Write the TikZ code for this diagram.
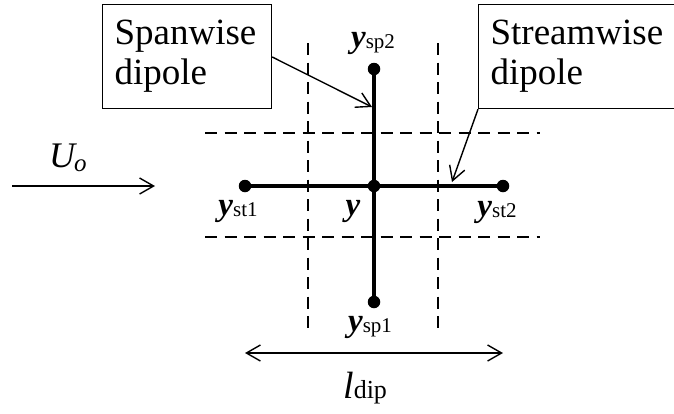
\documentclass[tikz,border=0pt]{standalone}
\usepackage{fontspec}
\setmainfont{Liberation Serif}
\usetikzlibrary{arrows.meta}
\begin{document}
\begin{tikzpicture}[x=1pt,y=-1pt,
  lbl/.style={font=\fontsize{33}{36}\selectfont, inner sep=0pt},
  boxlbl/.style={draw, line width=1.2pt, font=\fontsize{37}{40}\selectfont, align=left, inner xsep=12pt, inner ysep=0pt},
  thick line/.style={line width=3.5pt},
  dash line/.style={line width=2pt, dash pattern=on 12pt off 7.5pt},
  barb/.tip={Straight Barb[length=14pt,width=16pt,line width=1.4pt]},
  thin arrow/.style={line width=1.4pt, -barb},
  dot/.style={circle, fill=black, inner sep=0pt, minimum size=12.5pt}]
\useasboundingbox (0,0) rectangle (674,413);
% dashed grid
\draw[dash line] (205,133) -- (540,133);
\draw[dash line] (205,237) -- (540,237);
\draw[dash line] (308,43) -- (308,328);
\draw[dash line] (438,43) -- (438,328);
% dipole nodes
\node[dot] (c) at (374,186) {};
\node[dot] (st1) at (245,186) {};
\node[dot] (st2) at (503,186) {};
\node[dot] (sp2) at (374,69) {};
\node[dot] (sp1) at (374,302) {};
\draw[thick line] (st1.center) -- (st2.center);
\draw[thick line] (sp2.center) -- (sp1.center);
% labels
\newcommand{\yb}{\textbf{\textit{y}}}
\newcommand{\subt}[1]{\raisebox{-1pt}{\fontsize{21}{21}\selectfont #1}}
\node[lbl, anchor=base] (lsp2) at (373,47) {\yb\subt{sp2}};
\node[lbl, anchor=base] (lst1) at (238,215) {\yb\subt{st1}};
\node[lbl, anchor=base] (ly) at (353,215) {\yb};
\node[lbl, anchor=base] (lst2) at (497,216) {\yb\subt{st2}};
\node[lbl, anchor=base] (lsp1) at (370,331) {\yb\subt{sp1}};
% flow arrow
\coordinate (u0) at (12,186);
\coordinate (u1) at (155,186);
\draw[thin arrow] (u0) -- (u1);
\node[lbl, anchor=base west, font=\fontsize{36}{36}\selectfont] (uo) at (49,167) {\textit{U\kern-1pt\raisebox{-4pt}{\fontsize{25}{25}\selectfont o}}};
% boxes
\node[boxlbl, minimum width=169pt, minimum height=104pt, anchor=north west, text width=145pt] (span) at (102,4) {Spanwise\\dipole};
\node[boxlbl, minimum width=197pt, minimum height=104pt, anchor=north west, text width=173pt] (stream) at (478,4) {Streamwise\\dipole};
\coordinate (spanhead) at (372,107);
\coordinate (streamhead) at (452,182);
\draw[thin arrow] (span.east |- 0,57) -- (spanhead);
\draw[thin arrow] (stream.south west) -- (streamhead);
% l_dip
\coordinate (l0) at (245,353);
\coordinate (l1) at (503,353);
\draw[line width=1.4pt, barb-barb] (l0) -- (l1);
\node[lbl, anchor=base west] (ldip) at (343,398) {\fontsize{38}{38}\selectfont\textit{l}\fontsize{26}{26}\selectfont dip};
\end{tikzpicture}
\end{document}
